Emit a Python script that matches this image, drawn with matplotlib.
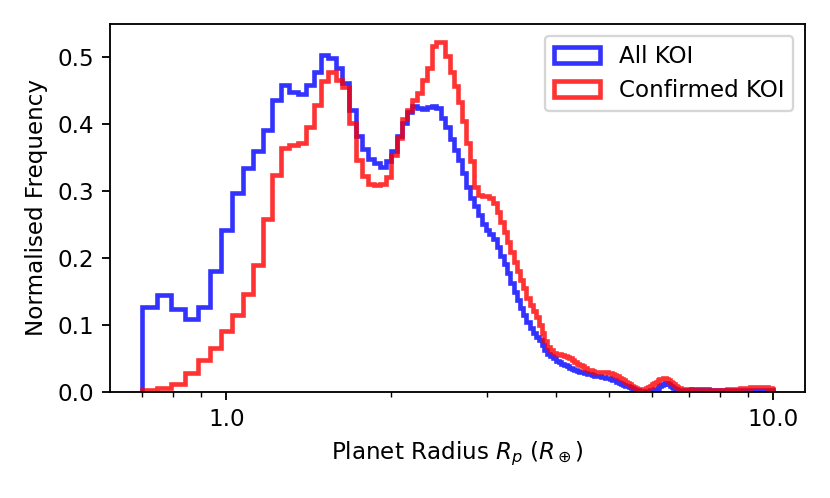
import numpy as np
import matplotlib
matplotlib.use("Agg")
import matplotlib.pyplot as plt
from matplotlib.ticker import FormatStrFormatter, NullFormatter, FixedLocator

# Bin definition (linear bins in planet radius)
R_MIN = 0.7
R_MAX = 10.0
N_BINS = 200

# Normalised frequency per bin
all_koi = [
    0.127, 0.145, 0.124, 0.108, 0.126, 0.181, 0.241, 0.297, 0.334, 0.359,
    0.391, 0.436, 0.458, 0.448, 0.445, 0.458, 0.477, 0.503, 0.499, 0.483,
    0.461, 0.420, 0.382, 0.362, 0.348, 0.342, 0.336, 0.345, 0.360, 0.382,
    0.401, 0.418, 0.426, 0.423, 0.422, 0.425, 0.427, 0.423, 0.409, 0.395,
    0.377, 0.361, 0.346, 0.327, 0.305, 0.290, 0.277, 0.264, 0.250, 0.242,
    0.236, 0.228, 0.216, 0.203, 0.190, 0.177, 0.163, 0.149, 0.137, 0.125,
    0.114, 0.104, 0.095, 0.087, 0.082, 0.077, 0.070, 0.063, 0.057, 0.053,
    0.050, 0.046, 0.044, 0.042, 0.040, 0.038, 0.036, 0.0345, 0.033, 0.031,
    0.030, 0.029, 0.028, 0.027, 0.026, 0.025, 0.024, 0.024, 0.023, 0.022,
    0.022, 0.021, 0.020, 0.019, 0.018, 0.017, 0.015, 0.013, 0.0115, 0.010,
    0.009, 0.008, 0.0065, 0.005, 0.004, 0.003, 0.002, 0.0015, 0.001, 0.001,
    0.001, 0.0012, 0.0015, 0.002, 0.0028, 0.0035, 0.0045, 0.006, 0.008, 0.010,
    0.012, 0.013, 0.0125, 0.011, 0.009, 0.007, 0.005, 0.0038, 0.003, 0.0026,
    0.0025, 0.0026, 0.0027, 0.0028, 0.0030, 0.0031, 0.0032, 0.0033,
    0.0034, 0.0035, 0.0036, 0.0036, 0.0037, 0.0037, 0.0036, 0.0036, 0.0035,
    0.0034, 0.0033, 0.0032, 0.0031, 0.0030, 0.0029,
    0.0028, 0.0027, 0.0026, 0.0025, 0.0024, 0.0024, 0.0023, 0.0023, 0.0022,
    0.0022, 0.0022, 0.0021, 0.0021, 0.0021, 0.0020, 0.0020, 0.0020, 0.0020,
    0.0020, 0.0020, 0.0020, 0.0020, 0.0020,
    0.0021, 0.0022, 0.0023, 0.0024, 0.0025, 0.0026, 0.0027, 0.0028, 0.0029,
    0.0030, 0.0030, 0.0030, 0.0030, 0.0030, 0.0029, 0.0028, 0.0027, 0.0026,
    0.0025, 0.0024, 0.0023, 0.0022, 0.0021, 0.0020,
]

confirmed_koi = [
    0.0025, 0.005, 0.0115, 0.028, 0.048, 0.066, 0.090, 0.115, 0.146, 0.189,
    0.258, 0.323, 0.364, 0.369, 0.371, 0.396, 0.428, 0.464, 0.478, 0.466,
    0.455, 0.401, 0.346, 0.322, 0.310, 0.308, 0.310, 0.321, 0.354, 0.379,
    0.408, 0.420, 0.436, 0.446, 0.466, 0.484, 0.516, 0.523, 0.522, 0.502,
    0.477, 0.457, 0.433, 0.404, 0.371, 0.344, 0.305, 0.294, 0.292, 0.292,
    0.290, 0.282, 0.269, 0.254, 0.239, 0.224, 0.209, 0.194, 0.181, 0.167,
    0.155, 0.140, 0.130, 0.120, 0.112, 0.100, 0.087, 0.075, 0.067, 0.062,
    0.058, 0.057, 0.056, 0.055, 0.054, 0.052, 0.050, 0.048, 0.045, 0.042,
    0.040, 0.038, 0.035, 0.033, 0.032, 0.031, 0.030, 0.030, 0.030, 0.030,
    0.030, 0.029, 0.028, 0.0275, 0.026, 0.025, 0.023, 0.021, 0.019, 0.017,
    0.015, 0.013, 0.011, 0.009, 0.007, 0.0055, 0.0045, 0.004, 0.0038, 0.004,
    0.0045, 0.0055, 0.007, 0.009, 0.011, 0.013, 0.015, 0.017, 0.0185, 0.0195,
    0.020, 0.020, 0.019, 0.017, 0.015, 0.013, 0.011, 0.009, 0.0075, 0.006,
    0.005, 0.0042, 0.0038, 0.0035,
    0.0034, 0.0033, 0.0033, 0.0032, 0.0032, 0.0031, 0.0031, 0.0030, 0.0030,
    0.0030, 0.0030, 0.0030,
    0.0030, 0.0029, 0.0029, 0.0028, 0.0028, 0.0028, 0.0028, 0.0028, 0.0029,
    0.0029, 0.0030, 0.0030, 0.0031, 0.0031, 0.0032, 0.0032, 0.0033, 0.0033,
    0.0034, 0.0034,
    0.0035, 0.0037, 0.0039, 0.0041, 0.0043, 0.0045, 0.0048, 0.0050, 0.0052,
    0.0055,
    0.0057, 0.0059, 0.0060, 0.0062, 0.0064,
    0.0066, 0.0068, 0.0070, 0.0071, 0.0072, 0.0073, 0.0073, 0.0073, 0.0072,
    0.0071, 0.0070, 0.0069, 0.0067,
    0.0064, 0.0060, 0.0057, 0.0054, 0.0050, 0.0046,
]

series_labels = ["All KOI", "Confirmed KOI"]
x_major_ticks = [1.0, 10.0]
y_ticks = [0.0, 0.1, 0.2, 0.3, 0.4, 0.5]

edges = np.linspace(R_MIN, R_MAX, N_BINS + 1)
centers = 0.5 * (edges[:-1] + edges[1:])

fig = plt.figure(figsize=(5, 3), dpi=166)
ax = fig.add_axes([110 / 830, 1 - 391.7 / 498, 695 / 830, 367.7 / 498])

ax.hist(centers, bins=edges, weights=all_koi, histtype="step",
        color="blue", alpha=0.8, linewidth=2, label=series_labels[0])
ax.hist(centers, bins=edges, weights=confirmed_koi, histtype="step",
        color="red", alpha=0.8, linewidth=2, label=series_labels[1])

ax.set_xscale("log")
ax.xaxis.set_major_locator(FixedLocator(x_major_ticks))
ax.xaxis.set_major_formatter(FormatStrFormatter("%.1f"))
ax.xaxis.set_minor_formatter(NullFormatter())
ax.set_yticks(y_ticks)

ax.set_xlabel(r"Planet Radius $R_p$ ($R_\oplus$)")
ax.set_ylabel("Normalised Frequency")
ax.legend(loc="upper right")

fig.savefig("out.png", dpi=166)
